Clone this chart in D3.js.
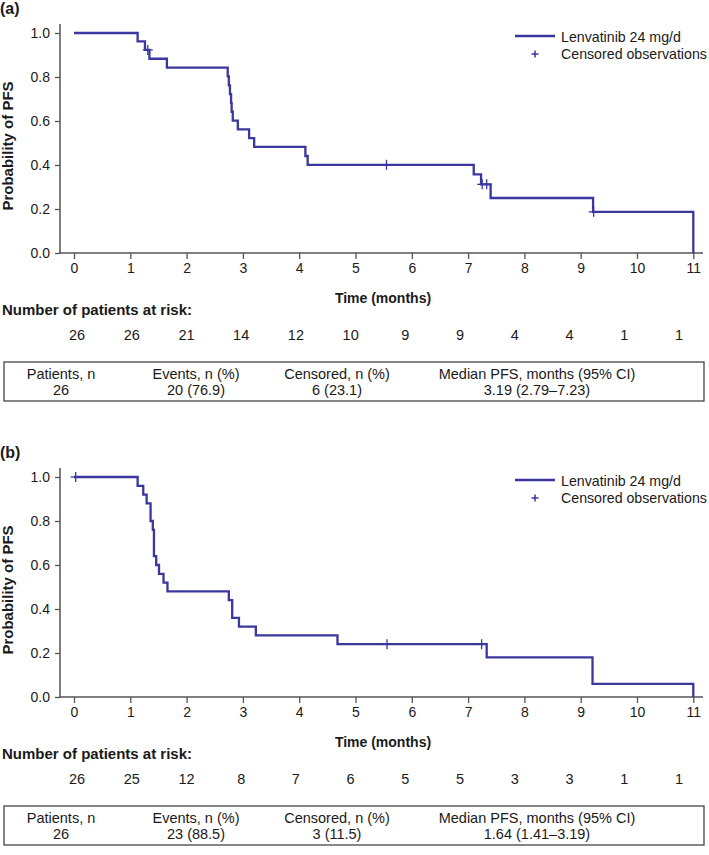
<!DOCTYPE html>
<html><head><meta charset="utf-8">
<script src="https://cdn.jsdelivr.net/npm/d3@7"></script>
<style>
body{margin:0;background:#fff}
svg text{font-family:"Liberation Sans",Arial,Helvetica,sans-serif;fill:#1a1a1a}
</style>
</head><body>
<svg id="chart" width="709" height="855"></svg>
<script>
// ---------- shared ----------
const xTickValues = [0,1,2,3,4,5,6,7,8,9,10,11];
const yTickValues = [0,0.2,0.4,0.6,0.8,1.0];
const legendLabels = ["Lenvatinib 24 mg/d","Censored observations"];
const tableHeaders = ["Patients, n","Events, n (%)","Censored, n (%)","Median PFS, months (95% CI)"];

// ---------- panel (a) ----------
const aStepTime = [0,1.13,1.26,1.34,1.65,2.73,2.75,2.77,2.79,2.80,2.82,2.91,3.11,3.20,4.11,4.15,7.10,7.23,7.40,9.22,11.0];
const aStepSurv = [1.0,0.962,0.923,0.883,0.843,0.803,0.762,0.722,0.682,0.642,0.602,0.562,0.522,0.482,0.441,0.401,0.357,0.312,0.250,0.187,0.0];
const aCensorTime = [1.31,5.55,7.25,7.33,9.23];
const aCensorSurv = [0.923,0.401,0.312,0.312,0.187];
const aRisk = [26,26,21,14,12,10,9,9,4,4,1,1];
const aSummary = ["26","20 (76.9)","6 (23.1)","3.19 (2.79\u20137.23)"];

// ---------- panel (b) ----------
const bStepTime = [0,1.13,1.23,1.29,1.36,1.40,1.42,1.46,1.51,1.59,1.66,2.75,2.81,2.93,3.23,4.68,7.33,9.21,11.0];
const bStepSurv = [1.0,0.96,0.92,0.88,0.80,0.76,0.64,0.60,0.56,0.52,0.48,0.44,0.36,0.32,0.28,0.24,0.18,0.06,0.0];
const bCensorTime = [0.03,5.56,7.24];
const bCensorSurv = [1.0,0.24,0.24];
const bRisk = [26,25,12,8,7,6,5,5,3,3,1,1];
const bSummary = ["26","23 (88.5)","3 (11.5)","1.64 (1.41\u20133.19)"];

const lineColor = "#3a37a0";
const axisColor = "#555";
const svg = d3.select("#chart");

function drawPanel(offY, label, stepT, stepS, cenT, cenS, risk, summary){
  const g = svg.append("g").attr("transform", `translate(0,${offY})`);
  const x = d3.scaleLinear().domain([0,11]).range([74,693.3]);
  const y = d3.scaleLinear().domain([0,1]).range([253,33]);
  const xRisk = d3.scaleLinear().domain([0,11]).range([77,679]);

  g.append("text").attr("x",0).attr("y",14).attr("font-weight","bold").attr("font-size",16).text(label);

  // axes
  const yAxis = d3.axisLeft(y).tickValues(yTickValues).tickFormat(d3.format(".1f")).tickSize(5).tickPadding(5);
  const ya = g.append("g").attr("transform","translate(60,0)").call(yAxis);
  ya.select(".domain").remove();
  ya.selectAll("line").attr("stroke",axisColor).attr("stroke-width",1.3);
  ya.selectAll("text").attr("font-size",14).style("font-family","'Liberation Sans',Arial,sans-serif").attr("fill","#1a1a1a");
  g.append("line").attr("x1",60).attr("x2",60).attr("y1",24).attr("y2",253.5).attr("stroke",axisColor).attr("stroke-width",1.5);

  const xAxis = d3.axisBottom(x).tickValues(xTickValues).tickFormat(d3.format("d")).tickSize(6).tickPadding(4);
  const xa = g.append("g").attr("transform","translate(0,253)").call(xAxis);
  xa.select(".domain").remove();
  xa.selectAll("line").attr("stroke",axisColor).attr("stroke-width",1.3);
  xa.selectAll("text").attr("font-size",14).style("font-family","'Liberation Sans',Arial,sans-serif").attr("fill","#1a1a1a");
  g.append("line").attr("x1",59.3).attr("x2",703).attr("y1",253).attr("y2",253).attr("stroke",axisColor).attr("stroke-width",1.5);

  // axis titles
  g.append("text").attr("transform","translate(13,146) rotate(-90)").attr("text-anchor","middle")
    .attr("font-weight","bold").attr("font-size",15).text("Probability of PFS");
  g.append("text").attr("x",383).attr("y",303).attr("text-anchor","middle")
    .attr("font-weight","bold").attr("font-size",14).text("Time (months)");

  // KM curve
  const pts = stepT.map((t,i)=>[t,stepS[i]]);
  const line = d3.line().x(d=>x(d[0])).y(d=>y(d[1])).curve(d3.curveStepAfter);
  g.append("path").datum(pts).attr("d",line).attr("fill","none").attr("stroke",lineColor).attr("stroke-width",2.3);

  // censor marks
  const cen = cenT.map((t,i)=>[t,cenS[i]]);
  const cg = g.append("g").attr("stroke",lineColor).attr("stroke-width",1.3);
  cen.forEach(d=>{
    const cx = x(d[0]), cy = y(d[1]);
    cg.append("line").attr("x1",cx-5).attr("x2",cx+5).attr("y1",cy).attr("y2",cy);
    cg.append("line").attr("x1",cx).attr("x2",cx).attr("y1",cy-5).attr("y2",cy+5);
  });

  // legend
  g.append("line").attr("x1",515).attr("x2",555).attr("y1",36).attr("y2",36).attr("stroke",lineColor).attr("stroke-width",2.5);
  g.append("text").attr("x",561).attr("y",41.5).attr("font-size",14.2).text(legendLabels[0]);
  const lg = g.append("g").attr("stroke",lineColor).attr("stroke-width",1.5);
  lg.append("line").attr("x1",531.5).attr("x2",538.5).attr("y1",54).attr("y2",54);
  lg.append("line").attr("x1",535).attr("x2",535).attr("y1",50.5).attr("y2",57.5);
  g.append("text").attr("x",561).attr("y",58.5).attr("font-size",14.2).text(legendLabels[1]);

  // risk table
  g.append("text").attr("x",2).attr("y",315).attr("font-weight","bold").attr("font-size",15).text("Number of patients at risk:");
  g.append("g").selectAll("text").data(risk).join("text")
    .attr("x",(d,i)=>xRisk(xTickValues[i])).attr("y",340).attr("text-anchor","middle").attr("font-size",14.5).text(d=>d);

  // summary table
  const colX = [61,196,337,537];
  g.append("rect").attr("x",4).attr("y",362).attr("width",700).attr("height",39)
    .attr("fill","none").attr("stroke","#444").attr("stroke-width",1.3);
  g.append("g").selectAll("text").data(tableHeaders).join("text")
    .attr("x",(d,i)=>colX[i]).attr("y",379).attr("text-anchor","middle").attr("font-size",14.5).text(d=>d);
  g.append("g").selectAll("text").data(summary).join("text")
    .attr("x",(d,i)=>colX[i]).attr("y",395).attr("text-anchor","middle").attr("font-size",14.5).text(d=>d);
}

drawPanel(0,"(a)",aStepTime,aStepSurv,aCensorTime,aCensorSurv,aRisk,aSummary);
drawPanel(444,"(b)",bStepTime,bStepSurv,bCensorTime,bCensorSurv,bRisk,bSummary);
</script>
</body></html>
